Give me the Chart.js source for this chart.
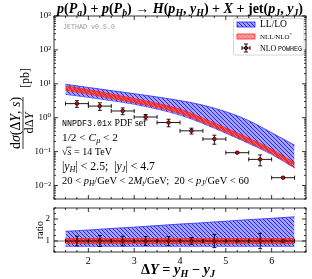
<!DOCTYPE html>
<html>
<head>
<meta charset="utf-8">
<script src="https://cdn.jsdelivr.net/npm/chart.js@4/dist/chart.umd.min.js"></script>
<style>
  html, body { margin: 0; padding: 0; background: #fff; }
  #wrap { position: relative; width: 312px; height: 279px; }
  #wrap canvas { position: absolute; left: 0; top: 0; }
</style>
</head>
<body>
<div id="wrap">
  <canvas id="main" width="312" height="279"></canvas>
  <canvas id="ratio" width="312" height="279"></canvas>
</div>
<script>
// axis limits
const xMin = 1.25, xMax = 6.75;
const yMin = 0.004, yMax = 1000;
const rMin = 0.5, rMax = 2.5;

// theory bands (sampled on dY grid)
const bandX   = [1.5, 2.0, 2.5, 3.0, 3.5, 4.0, 4.5, 5.0, 5.5, 6.0, 6.5];
const llLow   = [4.9, 4.0, 3.2, 2.5, 1.8, 1.2, 0.68, 0.35, 0.175, 0.083, 0.033];
const llHigh  = [9.7, 7.8, 6.3, 5.1, 4.1, 3.2, 2.35, 1.5, 0.82, 0.36, 0.155];
const nllLow  = [6.4, 5.0, 3.7, 2.75, 2.0, 1.33, 0.72, 0.37, 0.185, 0.088, 0.034];
const nllHigh = [8.6, 6.7, 5.0, 3.7, 2.65, 1.8, 0.97, 0.50, 0.25, 0.118, 0.047];

// POWHEG points
const binCenters = [1.75, 2.25, 2.75, 3.25, 3.75, 4.25, 4.75, 5.25, 5.75, 6.25];
const binHalf    = [0.25, 0.25, 0.25, 0.25, 0.25, 0.25, 0.25, 0.25, 0.25, 0.25];
const powheg     = [2.6, 2.2, 1.58, 1.05, 0.72, 0.41, 0.235, 0.093, 0.059, 0.017];
const powhegErr  = [0.58, 0.55, 0.36, 0.19, 0.18, 0.08, 0.07, 0.004, 0.021, 0.0008];

// ratio panel
const ratioLLLow   = [0.76, 0.76, 0.76, 0.76, 0.76, 0.76, 0.76, 0.76, 0.76, 0.76, 0.76];
const ratioLLHigh  = [1.44, 1.50, 1.57, 1.63, 1.70, 1.77, 1.83, 1.90, 1.97, 2.03, 2.10];
const ratioNLLLow  = [0.89, 0.89, 0.89, 0.89, 0.89, 0.89, 0.89, 0.89, 0.89, 0.89, 0.89];
const ratioNLLHigh = [1.11, 1.11, 1.11, 1.11, 1.11, 1.11, 1.11, 1.11, 1.11, 1.11, 1.11];
const ratioPowheg    = [1, 1, 1, 1, 1, 1, 1, 1, 1, 1];
const ratioPowhegErr = [0.22, 0.25, 0.22, 0.2, 0.2, 0.15, 0.3, 0.02, 0.35, 0.03];

// ticks
const xMajor = [2, 3, 4, 5, 6];
const ratioMajor = [1, 2];

const SERIF = '"Liberation Serif", "DejaVu Serif", serif';
const MONO = '"Liberation Mono", "DejaVu Sans Mono", monospace';
const BLUE = '#2a2aff';
const RED = '#f02828';

function makePattern(bg, line) {
  const c = document.createElement('canvas');
  c.width = 4; c.height = 4;
  const g = c.getContext('2d');
  g.fillStyle = bg;
  g.fillRect(0, 0, 4, 4);
  g.strokeStyle = line;
  g.lineWidth = 1;
  g.beginPath();
  g.moveTo(-1, -1); g.lineTo(5, 5);
  g.moveTo(-1, 3); g.lineTo(1, 5);
  g.moveTo(3, -1); g.lineTo(5, 1);
  g.stroke();
  return g.createPattern(c, 'repeat');
}
const bluePat = makePattern('rgba(140,140,255,0.8)', 'rgba(30,30,255,0.95)');
const redPat = makePattern('rgba(240,40,40,0.95)', 'rgba(255,120,120,0.9)');
const redPatLight = makePattern('rgba(255,120,120,0.9)', 'rgba(255,190,190,0.9)');

// little rich-text helper: flags i=italic b=bold m=mono _=sub ^=sup o=overline
function segFont(f, size) {
  return (f.includes('i') ? 'italic ' : '') + (f.includes('b') ? 'bold ' : '') +
    size.toFixed(2) + 'px ' + (f.includes('m') ? MONO : SERIF);
}
function layoutRich(ctx, segs, size) {
  let w = 0;
  const items = segs.map(([t, f]) => {
    const s = (f.includes('_') || f.includes('^')) ? size * 0.7 : (f.includes('m') ? size * 0.85 : size);
    ctx.font = segFont(f, s);
    const sw = ctx.measureText(t).width;
    const it = { t, f, s, dx: w, w: sw };
    w += sw;
    return it;
  });
  return { items, w };
}
function drawRich(ctx, segs, x, y, size, fitW, align, color) {
  let lay = layoutRich(ctx, segs, size);
  if (fitW) { size = size * fitW / lay.w; lay = layoutRich(ctx, segs, size); }
  const x0 = align === 'center' ? x - lay.w / 2 : x;
  ctx.save();
  ctx.fillStyle = color || '#000';
  ctx.strokeStyle = color || '#000';
  ctx.textAlign = 'left';
  ctx.textBaseline = 'alphabetic';
  for (const it of lay.items) {
    ctx.font = segFont(it.f, it.s);
    let yy = y;
    if (it.f.includes('_')) yy = y + size * 0.22;
    if (it.f.includes('^')) yy = y - size * 0.38;
    ctx.fillText(it.t, x0 + it.dx, yy);
    if (it.f.includes('o')) {
      ctx.lineWidth = 0.7;
      ctx.beginPath();
      ctx.moveTo(x0 + it.dx - 1, y - size * 0.78);
      ctx.lineTo(x0 + it.dx + it.w, y - size * 0.78);
      ctx.stroke();
    }
  }
  ctx.restore();
  return lay.w;
}

function supNum(n) {
  const map = { '-': '⁻', '0': '⁰', '1': '¹', '2': '²', '3': '³', '4': '⁴', '5': '⁵' };
  return String(n).split('').map(c => map[c]).join('');
}

// frame + inward ticks on all sides
function frameTicks(kind) {
  return {
    id: 'frameTicks',
    afterDraw(chart) {
      const { ctx, chartArea: a, scales } = chart;
      const xs = scales.x, ys = scales.y;
      ctx.save();
      ctx.strokeStyle = '#000';
      ctx.lineWidth = 0.8;
      ctx.beginPath();
      const tick = (px, len, vertical) => {
        if (vertical) {
          ctx.moveTo(px, a.bottom); ctx.lineTo(px, a.bottom - len);
          ctx.moveTo(px, a.top); ctx.lineTo(px, a.top + len);
        } else {
          ctx.moveTo(a.left, px); ctx.lineTo(a.left + len, px);
          ctx.moveTo(a.right, px); ctx.lineTo(a.right - len, px);
        }
      };
      for (let v = Math.ceil(xMin * 4) / 4; v <= xMax + 1e-9; v += 0.25) {
        tick(xs.getPixelForValue(v), xMajor.includes(v) ? 4 : 2, true);
      }
      if (kind === 'log') {
        for (let e = -3; e <= 3; e++) {
          for (let k = 1; k <= 9; k++) {
            const v = k * Math.pow(10, e);
            if (v < yMin || v > yMax) continue;
            tick(ys.getPixelForValue(v), k === 1 ? 4 : 2, false);
          }
        }
      } else {
        for (let v = rMin; v <= rMax + 1e-9; v += 0.25) {
          tick(ys.getPixelForValue(v), ratioMajor.includes(v) ? 4 : 2, false);
        }
      }
      ctx.stroke();
      ctx.strokeRect(a.left, a.top, a.right - a.left, a.bottom - a.top);
      ctx.restore();
    }
  };
}

function errBars(dsIndex, ys, yerr) {
  return {
    id: 'errBars',
    beforeDatasetDraw(chart, args) {
      if (args.index !== dsIndex) return;
      const { ctx, scales } = chart;
      ctx.save();
      ctx.strokeStyle = '#000';
      ctx.lineWidth = 0.9;
      ctx.beginPath();
      binCenters.forEach((c, i) => {
        const px = scales.x.getPixelForValue(c);
        const py = scales.y.getPixelForValue(ys[i]);
        const xl = scales.x.getPixelForValue(c - binHalf[i]);
        const xr = scales.x.getPixelForValue(c + binHalf[i]);
        const yt = scales.y.getPixelForValue(ys[i] + yerr[i]);
        const yb = scales.y.getPixelForValue(ys[i] - yerr[i]);
        ctx.moveTo(xl, py); ctx.lineTo(xr, py);
        ctx.moveTo(xl, py - 2); ctx.lineTo(xl, py + 2);
        ctx.moveTo(xr, py - 2); ctx.lineTo(xr, py + 2);
        ctx.moveTo(px, yt); ctx.lineTo(px, yb);
        ctx.moveTo(px - 2, yt); ctx.lineTo(px + 2, yt);
        ctx.moveTo(px - 2, yb); ctx.lineTo(px + 2, yb);
      });
      ctx.stroke();
      ctx.restore();
    }
  };
}

const topDecor = {
  id: 'topDecor',
  afterDraw(chart) {
    const ctx = chart.ctx;
    // title
    drawRich(ctx, [
      ['p', 'bi'], ['(', 'b'], ['P', 'bi'], ['a', 'bi_'], [') + ', 'b'],
      ['p', 'bi'], ['(', 'b'], ['P', 'bi'], ['b', 'bi_'], [') → ', 'b'],
      ['H', 'bi'], ['(', 'b'], ['p', 'bi'], ['H', 'bi_'], [', ', 'b'], ['y', 'bi'], ['H', 'bi_'], [') + ', 'b'],
      ['X', 'bi'], [' + jet(', 'b'], ['p', 'bi'], ['J', 'bi_'], [', ', 'b'], ['y', 'bi'], ['J', 'bi_'], [')', 'b']
    ], 180, 12.5, 12, 246, 'center');

    drawRich(ctx, [['JETHAD v0.5.0', 'm']], 63, 29, 8, 52, 'left', '#999');

    // setup annotations
    drawRich(ctx, [['NNPDF3.01x', 'm'], [' PDF set', '']], 62, 126, 9, 84, 'left');
    drawRich(ctx, [['1/2 < ', ''], ['C', 'i'], ['μ', 'i_'], [' < 2', '']], 62, 140.5, 9, 56, 'left');
    drawRich(ctx, [['√', ''], ['s', 'io'], [' = 14 TeV', '']], 62, 155, 9, 50, 'left');
    drawRich(ctx, [['|', ''], ['y', 'i'], ['H', 'i_'], ['| < 2.5;  |', ''], ['y', 'i'], ['J', 'i_'], ['| < 4.7', '']], 62, 169.5, 9, 93, 'left');
    drawRich(ctx, [['20 < ', ''], ['p', 'i'], ['H', 'i_'], ['/GeV < 2', ''], ['M', 'i'], ['t', 'i_'],
      ['/GeV;  20 < ', ''], ['p', 'i'], ['J', 'i_'], ['/GeV < 60', '']], 62, 184, 9, 187, 'left');

    // legend
    ctx.save();
    ctx.fillStyle = 'rgba(255,255,255,0.85)';
    ctx.strokeStyle = '#cccccc';
    ctx.lineWidth = 0.8;
    ctx.beginPath();
    ctx.roundRect(233.5, 18.5, 70.5, 36.5, 2);
    ctx.fill(); ctx.stroke();
    ctx.fillStyle = bluePat;
    ctx.fillRect(237, 22, 18, 5);
    ctx.strokeStyle = BLUE; ctx.strokeRect(237, 22, 18, 5);
    ctx.fillStyle = redPatLight;
    ctx.fillRect(237, 34, 18, 5);
    ctx.strokeStyle = RED; ctx.strokeRect(237, 34, 18, 5);
    ctx.strokeStyle = '#000'; ctx.lineWidth = 0.9;
    ctx.beginPath();
    ctx.moveTo(246, 44); ctx.lineTo(246, 52);
    ctx.moveTo(244, 44); ctx.lineTo(248, 44);
    ctx.moveTo(244, 52); ctx.lineTo(248, 52);
    ctx.moveTo(242, 48); ctx.lineTo(250, 48);
    ctx.moveTo(242, 46); ctx.lineTo(242, 50);
    ctx.moveTo(250, 46); ctx.lineTo(250, 50);
    ctx.stroke();
    ctx.fillStyle = '#e00000';
    ctx.beginPath(); ctx.arc(246, 48, 1.6, 0, Math.PI * 2); ctx.fill(); ctx.stroke();
    ctx.restore();
    drawRich(ctx, [['LL/LO', '']], 260, 27, 8, 27, 'left');
    drawRich(ctx, [['NLL/NLO', ''], ['*', '^']], 260, 39, 8, 32, 'left');
    drawRich(ctx, [['NLO ', ''], ['POWHEG', 'm']], 260, 51, 8, 42, 'left');

    // y title: fraction, rotated
    ctx.save();
    ctx.translate(23, 123);
    ctx.rotate(-Math.PI / 2);
    const wn = drawRich(ctx, [['d', ''], ['σ', 'i'], ['(Δ', ''], ['Y', 'i'], [', ', ''], ['s', 'i'], [')', '']], 0, -3.5, 11, 52, 'center');
    ctx.lineWidth = 0.8;
    ctx.beginPath(); ctx.moveTo(-wn / 2, 0); ctx.lineTo(wn / 2, 0); ctx.stroke();
    drawRich(ctx, [['dΔ', ''], ['Y', 'i']], 0, 10, 11, 21, 'center');
    ctx.restore();
    ctx.save();
    ctx.translate(29, 78);
    ctx.rotate(-Math.PI / 2);
    drawRich(ctx, [['[pb]', '']], 0, 0, 10, 20, 'center');
    ctx.restore();
  }
};

const ratioDecor = {
  id: 'ratioDecor',
  afterDraw(chart) {
    const ctx = chart.ctx;
    drawRich(ctx, [['Δ', 'b'], ['Y', 'bi'], [' = ', 'b'], ['y', 'bi'], ['H', 'bi_'], [' − ', 'b'], ['y', 'bi'], ['J', 'bi_']],
      178, 274, 13, 74, 'center');
    ctx.save();
    ctx.translate(43, 230);
    ctx.rotate(-Math.PI / 2);
    drawRich(ctx, [['ratio', '']], 0, 0, 10, 18, 'center');
    ctx.restore();
  }
};

function bandDs(xs, ys, color, fill, pat, order) {
  return {
    data: xs.map((x, i) => ({ x, y: ys[i] })),
    borderColor: color,
    borderWidth: 0.8,
    backgroundColor: pat,
    fill: fill ? '+1' : false,
    pointRadius: 0,
    cubicInterpolationMode: 'monotone',
    order
  };
}

const logLabel = (v) => {
  const e = Math.log10(v);
  return Math.abs(e - Math.round(e)) < 1e-9 ? '10' + supNum(Math.round(e)) : '';
};

new Chart(document.getElementById('main'), {
  type: 'line',
  data: {
    datasets: [
      bandDs(bandX, llHigh, BLUE, true, bluePat, 2),
      bandDs(bandX, llLow, BLUE, false, bluePat, 2),
      bandDs(bandX, nllHigh, RED, true, redPat, 1),
      bandDs(bandX, nllLow, RED, false, redPat, 1),
      {
        type: 'scatter',
        data: binCenters.map((x, i) => ({ x, y: powheg[i] })),
        pointRadius: 1.8,
        pointBackgroundColor: '#e00000',
        pointBorderColor: '#000',
        pointBorderWidth: 0.7,
        showLine: false,
        order: 0
      }
    ]
  },
  options: {
    responsive: false,
    animation: false,
    devicePixelRatio: 1,
    layout: { padding: { left: 0, right: 6, top: 16, bottom: 80 } },
    plugins: { legend: { display: false }, tooltip: { enabled: false } },
    scales: {
      x: {
        type: 'linear', min: xMin, max: xMax,
        ticks: { display: false },
        grid: { display: false, drawTicks: false },
        border: { display: false },
        afterFit: (s) => { s.height = 0; }
      },
      y: {
        type: 'logarithmic', min: yMin, max: yMax,
        ticks: {
          autoSkip: false, padding: 3, color: '#000',
          font: { family: SERIF, size: 9 },
          callback: logLabel
        },
        grid: { display: false, drawTicks: false },
        border: { display: false },
        afterFit: (s) => { s.width = 54; }
      }
    }
  },
  plugins: [errBars(4, powheg, powhegErr), frameTicks('log'), topDecor]
});

new Chart(document.getElementById('ratio'), {
  type: 'line',
  data: {
    datasets: [
      {
        data: [{ x: xMin, y: 1 }, { x: xMax, y: 1 }],
        borderColor: '#777', borderWidth: 1, pointRadius: 0, fill: false, order: 3
      },
      bandDs(bandX, ratioLLHigh, BLUE, true, bluePat, 2),
      bandDs(bandX, ratioLLLow, BLUE, false, bluePat, 2),
      bandDs(bandX, ratioNLLHigh, RED, true, redPat, 1),
      bandDs(bandX, ratioNLLLow, RED, false, redPat, 1),
      {
        type: 'scatter',
        data: binCenters.map((x, i) => ({ x, y: ratioPowheg[i] })),
        pointRadius: 1.5,
        pointBackgroundColor: '#e00000',
        pointBorderColor: '#000',
        pointBorderWidth: 0.7,
        showLine: false,
        order: 0
      }
    ]
  },
  options: {
    responsive: false,
    animation: false,
    devicePixelRatio: 1,
    layout: { padding: { left: 0, right: 6, top: 208, bottom: 7 } },
    plugins: { legend: { display: false }, tooltip: { enabled: false } },
    scales: {
      x: {
        type: 'linear', min: xMin, max: xMax,
        ticks: {
          stepSize: 1, autoSkip: false, includeBounds: false, padding: 3, color: '#000',
          font: { family: SERIF, size: 10 },
          callback: (v) => (Number.isInteger(v) ? String(v) : '')
        },
        grid: { display: false, drawTicks: false },
        border: { display: false },
        afterFit: (s) => { s.height = 20; }
      },
      y: {
        type: 'linear', min: rMin, max: rMax,
        afterBuildTicks: (s) => { s.ticks = ratioMajor.map((v) => ({ value: v })); },
        ticks: {
          padding: 4, color: '#000',
          font: { family: SERIF, size: 9 },
          callback: (v) => String(v)
        },
        grid: { display: false, drawTicks: false },
        border: { display: false },
        afterFit: (s) => { s.width = 54; }
      }
    }
  },
  plugins: [errBars(5, ratioPowheg, ratioPowhegErr), frameTicks('lin'), ratioDecor]
});
</script>
</body>
</html>
